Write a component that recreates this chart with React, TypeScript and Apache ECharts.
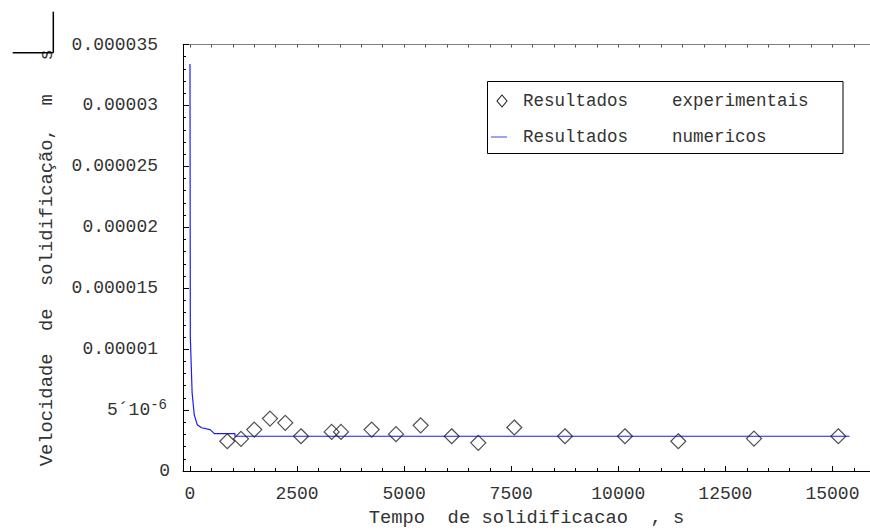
import React, { useEffect, useRef } from 'react';
import * as echarts from 'echarts';

// Experimental results (time in s, velocity in m/s)
const expTime = [871, 1191, 1501, 1868, 2225, 2592, 3308, 3526, 4242, 4810, 5386, 6110, 6731, 7572, 8755, 10156, 11401, 13168, 15137];
const expVel = [2.44e-6, 2.64e-6, 3.40e-6, 4.30e-6, 3.95e-6, 2.85e-6, 3.21e-6, 3.21e-6, 3.40e-6, 3.02e-6, 3.75e-6, 2.85e-6, 2.31e-6, 3.57e-6, 2.85e-6, 2.85e-6, 2.44e-6, 2.66e-6, 2.85e-6];

// Numerical results
const numTime = [0, 8, 50, 100, 170, 270, 470, 570, 1050, 1050, 15400];
const numVel = [33.4e-6, 11.0e-6, 6.4e-6, 4.6e-6, 3.8e-6, 3.55e-6, 3.4e-6, 3.07e-6, 3.07e-6, 2.85e-6, 2.85e-6];

const seriesNames = ['Resultados experimentais', 'Resultados numericos'];

const xMajorTicks = [0, 2500, 5000, 7500, 10000, 12500, 15000];
const xMinorTicks = [500, 1000, 1500, 2000, 3000, 3500, 4000, 4500, 5500, 6000, 6500, 7000, 8000, 8500, 9000, 9500, 10500, 11000, 11500, 12000, 13000, 13500, 14000, 14500, 15500];
const xTopTicks = [0, 500, 1000, 1500, 2000, 2500, 3000, 3500, 4000, 4500, 5000, 5500, 6000, 6500, 7000, 7500, 8000, 8500, 9000, 9500, 10000, 10500, 11000, 11500, 12000, 12500, 13000, 13500, 14000, 14500, 15000, 15500];
const xTickLabels = ['0', '2500', '5000', '7500', '10000', '12500', '15000'];
const yTickLabels = ['0', '5´10', '0.00001', '0.000015', '0.00002', '0.000025', '0.00003', '0.000035'];
const ySuperscript = '-6';

const xTitle = 'Tempo  de solidificacao  , s';
const yTitle = 'Velocidade  de  solidificação,  m   s';

const FONT = 'Liberation Mono';

export default function App() {
  const ref = useRef<HTMLDivElement>(null);
  useEffect(() => {
    if (!ref.current) return;
    const chart = echarts.init(ref.current, null, { renderer: 'svg' });
    const xMin = -163;
    const xMax = 15877;
    const expData = expTime.map((t, i) => [t, expVel[i]]);
    const numData = numTime.map((t, i) => [t, numVel[i]]);
    const [n1a, n1b] = seriesNames[0].split(' ');
    const [n2a, n2b] = seriesNames[1].split(' ');
    const textColor = '#333';
    chart.setOption({
      animation: false,
      backgroundColor: '#fff',
      grid: { left: 183, right: 0, top: 44.5, bottom: 60.5, containLabel: false },
      xAxis: [
        {
          type: 'value', position: 'bottom', min: xMin, max: xMax,
          axisLine: { show: true, onZero: false, lineStyle: { color: '#000', width: 1 } },
          axisTick: { show: true, inside: true, length: 5, customValues: xMajorTicks, lineStyle: { color: '#000' } },
          axisLabel: {
            show: true, customValues: xMajorTicks, margin: 14, color: textColor, fontFamily: FONT, fontSize: 18,
            formatter: (v: number) => { const i = xMajorTicks.indexOf(v); return i >= 0 ? xTickLabels[i] : ''; },
          },
          splitLine: { show: false },
          name: xTitle, nameLocation: 'middle', nameGap: 37,
          nameTextStyle: { fontFamily: FONT, fontSize: 18.8, color: textColor },
        },
        {
          type: 'value', position: 'bottom', min: xMin, max: xMax,
          axisLine: { show: false },
          axisTick: { show: true, inside: true, length: 3, customValues: xMinorTicks, lineStyle: { color: '#000' } },
          axisLabel: { show: false },
          splitLine: { show: false },
        },
        {
          type: 'value', position: 'top', min: xMin, max: xMax,
          axisLine: { show: true, onZero: false, lineStyle: { color: '#808080', width: 1 } },
          axisTick: { show: true, inside: true, length: 3, customValues: xTopTicks, lineStyle: { color: '#555' } },
          axisLabel: { show: false },
          splitLine: { show: false },
        },
      ],
      yAxis: {
        type: 'value', min: 0, max: 35e-6, interval: 5e-6,
        axisLine: { show: true, onZero: false, lineStyle: { color: '#000', width: 1 } },
        axisTick: { show: true, inside: true, length: 6, lineStyle: { color: '#000' } },
        minorTick: { show: true, splitNumber: 5, length: 3, lineStyle: { color: '#000' } },
        splitLine: { show: false },
        axisLabel: {
          margin: 13, color: textColor, fontFamily: FONT, fontSize: 18,
          formatter: (_v: number, i: number) => {
            const lab = yTickLabels[i];
            if (i === 0) return '{z|' + lab + '}';
            if (i === 1) return '{m|' + lab + '}{sup|' + ySuperscript + '}';
            return '{n|' + lab + '}';
          },
          rich: {
            z: { fontFamily: FONT, fontSize: 18, color: textColor },
            n: { fontFamily: FONT, fontSize: 18, color: textColor, padding: [0, 12, 0, 0] },
            m: { fontFamily: FONT, fontSize: 18, color: textColor, lineHeight: 24 },
            sup: { fontFamily: FONT, fontSize: 14, color: textColor, verticalAlign: 'top', lineHeight: 14, padding: [0, 3, 0, 0] },
          },
        },
        name: yTitle, nameLocation: 'middle', nameRotate: 90, nameGap: 127,
        nameTextStyle: { fontFamily: FONT, fontSize: 18.8, color: textColor },
      },
      graphic: [
        { type: 'line', shape: { x1: 12.7, y1: 52.7, x2: 53.3, y2: 52.7 }, style: { stroke: '#000', lineWidth: 1.5 }, z: 10 },
        { type: 'line', shape: { x1: 53.3, y1: 11.7, x2: 53.3, y2: 52.7 }, style: { stroke: '#000', lineWidth: 1.5 }, z: 10 },
        { type: 'rect', shape: { x: 487.5, y: 81.5, width: 355.5, height: 72 }, style: { fill: '#fff', stroke: '#000', lineWidth: 1 }, z: 10 },
        { type: 'polygon', shape: { points: [[502, 95], [507, 101], [502, 107], [497, 101]] }, style: { fill: 'none', stroke: '#222', lineWidth: 1.1 }, z: 11 },
        { type: 'line', shape: { x1: 491, y1: 137, x2: 507, y2: 137 }, style: { stroke: '#6060ff', lineWidth: 1.2 }, z: 11 },
        { type: 'text', x: 523, y: 101, style: { text: n1a, fontFamily: FONT, fontSize: 17.5, fill: textColor, textVerticalAlign: 'middle' }, z: 11 },
        { type: 'text', x: 672, y: 101, style: { text: n1b, fontFamily: FONT, fontSize: 17.5, fill: textColor, textVerticalAlign: 'middle' }, z: 11 },
        { type: 'text', x: 523, y: 137, style: { text: n2a, fontFamily: FONT, fontSize: 17.5, fill: textColor, textVerticalAlign: 'middle' }, z: 11 },
        { type: 'text', x: 672, y: 137, style: { text: n2b, fontFamily: FONT, fontSize: 17.5, fill: textColor, textVerticalAlign: 'middle' }, z: 11 },
      ],
      series: [
        {
          name: seriesNames[1], type: 'line', xAxisIndex: 0, data: numData,
          showSymbol: false, symbol: 'none',
          lineStyle: { color: '#1a1aff', width: 1.2 },
          z: 2,
        },
        {
          name: seriesNames[0], type: 'scatter', xAxisIndex: 0, data: expData,
          symbol: 'diamond', symbolSize: [15, 15],
          itemStyle: { color: 'rgba(0,0,0,0)', borderColor: '#222', borderWidth: 1.2 },
          z: 3,
        },
      ],
    });
    return () => chart.dispose();
  }, []);
  return <div ref={ref} style={{ position: 'fixed', left: 0, top: 0, width: 870, height: 532 }} />;
}
